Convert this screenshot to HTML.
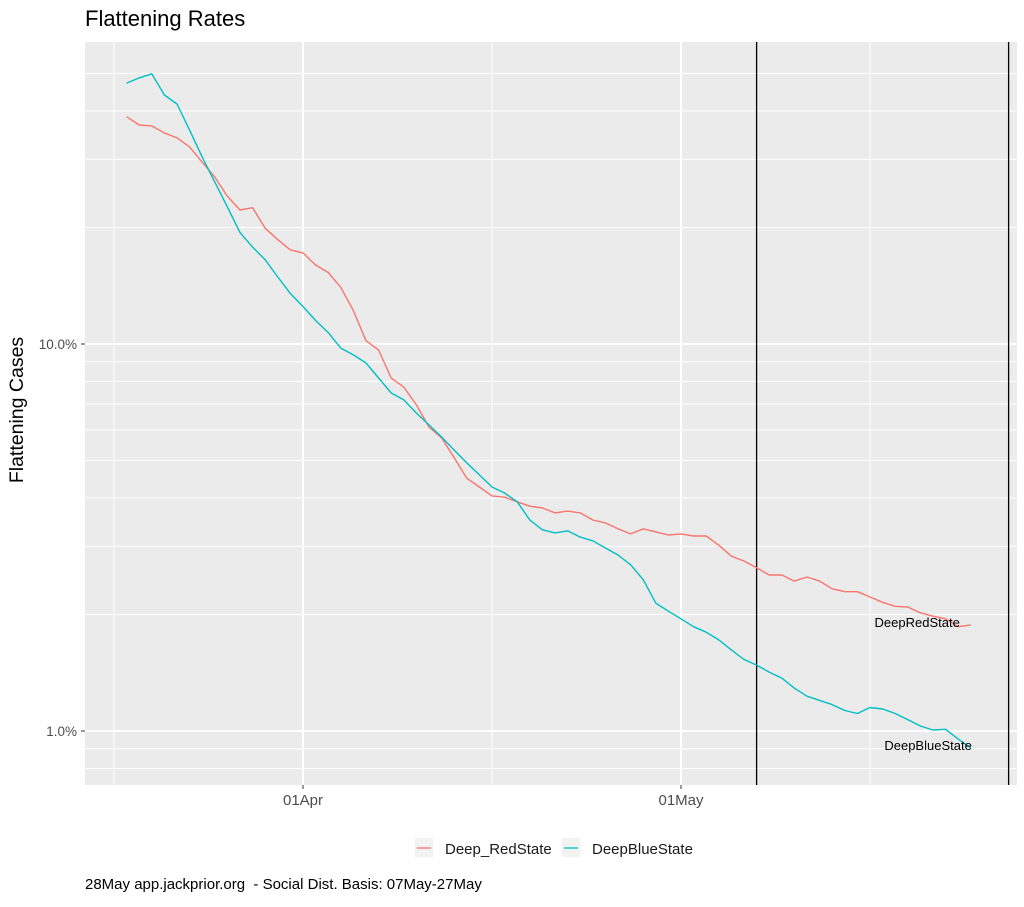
<!DOCTYPE html>
<html><head><meta charset="utf-8">
<style>
html,body{margin:0;padding:0;background:#fff;}
body{width:1024px;height:902px;overflow:hidden;font-family:"Liberation Sans",Arial,sans-serif;}
svg text{font-family:"Liberation Sans",Arial,sans-serif;}
</style></head>
<body>
<svg id="chart" width="1024" height="902" viewBox="0 0 1024 902" xmlns="http://www.w3.org/2000/svg">
<text x="85" y="26" font-size="22" fill="#000">Flattening Rates</text>
<rect x="85" y="42" width="932" height="743" fill="#ebebeb"/>
<g id="grid"></g>
<g id="vlines"></g>
<g id="series"></g>
<g id="axes"></g>
<text transform="translate(23,410) rotate(-90)" text-anchor="middle" font-size="19.5" fill="#000">Flattening Cases</text>
<g>
<g>
<rect x="415" y="838" width="18" height="19" fill="#f2f2f2"/>
<line x1="417" y1="848" x2="431" y2="848" stroke="#F8766D" stroke-width="1.3"/>
<text x="445" y="854" font-size="15" fill="#1a1a1a">Deep_RedState</text>
</g>
<g>
<rect x="562" y="838" width="18" height="19" fill="#f2f2f2"/>
<line x1="564" y1="848" x2="578" y2="848" stroke="#00BFC4" stroke-width="1.3"/>
<text x="592" y="854" font-size="15" fill="#1a1a1a">DeepBlueState</text>
</g>
</g>
<text x="85" y="889" font-size="15" fill="#000" xml:space="preserve" style="white-space:pre">28May app.jackprior.org  - Social Dist. Basis: 07May-27May</text>
</svg>
<script>
const startDay = -14; // days relative to 01Apr (18 Mar)
const redValues = [38.67,36.8,36.6,35.1,34.1,32.3,29.5,27.0,24.1,22.2,22.5,19.9,18.6,17.5,17.2,16.0,15.3,14.0,12.2,10.2,9.65,8.17,7.74,6.96,6.10,5.72,5.08,4.50,4.27,4.05,4.02,3.91,3.81,3.77,3.66,3.70,3.66,3.51,3.45,3.33,3.23,3.33,3.27,3.21,3.23,3.19,3.19,3.02,2.83,2.75,2.64,2.53,2.53,2.44,2.50,2.44,2.33,2.29,2.29,2.22,2.15,2.10,2.09,2.02,1.98,1.95,1.86,1.88];
const blueValues = [47.2,48.7,49.9,44.0,41.7,35.7,30.4,26.2,22.6,19.4,17.8,16.5,14.9,13.5,12.5,11.5,10.7,9.76,9.37,8.93,8.17,7.47,7.17,6.63,6.18,5.75,5.32,4.93,4.59,4.27,4.12,3.91,3.51,3.31,3.25,3.29,3.17,3.10,2.97,2.85,2.69,2.46,2.14,2.04,1.95,1.86,1.80,1.72,1.62,1.53,1.48,1.42,1.37,1.29,1.23,1.20,1.17,1.13,1.11,1.15,1.14,1.11,1.07,1.03,1.006,1.01,0.953,0.904];
const yMajorTicks = [10, 1];
const yTickLabels = ["10.0%", "1.0%"];
const yMinorGrid = [50,40,30,20,9,8,7,6,5,4,3,2,0.9,0.8];
const xMajorDays = [0, 30];
const xTickLabels = ["01Apr", "01May"];
const xMinorDays = [-15, 15, 45];
const refLineDays = [36, 56];
const seriesLabels = ["DeepRedState", "DeepBlueState"];

const NS = "http://www.w3.org/2000/svg";
const PX0 = 85, PX1 = 1017, PY0 = 42, PY1 = 785;
function xScale(day){ return 303 + day * 12.6; }
function yScale(v){ return 731 - 387 * Math.log10(v); }
function mk(tag, attrs, parent){ const e = document.createElementNS(NS, tag); for (const k in attrs) e.setAttribute(k, attrs[k]); parent.appendChild(e); return e; }

const grid = document.getElementById('grid');
yMinorGrid.forEach(v => {
  const l = mk('line', {x1:PX0, x2:PX1, y1:yScale(v), y2:yScale(v), stroke:'#fff', 'stroke-width':1}, grid);
  
  
});
xMinorDays.forEach(d => {
  const l = mk('line', {x1:xScale(d), x2:xScale(d), y1:PY0, y2:PY1, stroke:'#fff', 'stroke-width':1}, grid);
  
  
});
yMajorTicks.forEach(v => {
  const l = mk('line', {x1:PX0, x2:PX1, y1:yScale(v), y2:yScale(v), stroke:'#fff', 'stroke-width':2}, grid);
  
  
});
xMajorDays.forEach(d => {
  const l = mk('line', {x1:xScale(d), x2:xScale(d), y1:PY0, y2:PY1, stroke:'#fff', 'stroke-width':2}, grid);
  
  
});

const vl = document.getElementById('vlines');
refLineDays.forEach(d => {
  const l = mk('line', {x1:xScale(d), x2:xScale(d), y1:PY0, y2:PY1, stroke:'#000', 'stroke-width':1.3}, vl);
  
  
});

const ser = document.getElementById('series');
function drawLine(vals, color, name){
  const pts = vals.map((v,i) => xScale(startDay + i).toFixed(1) + ',' + yScale(v).toFixed(1)).join(' ');
  const p = mk('polyline', {points:pts, fill:'none', stroke:color, 'stroke-width':1.4, 'stroke-linejoin':'round'}, ser);
  
  
}
drawLine(redValues, '#F8766D', 'deep-red-state-line');
drawLine(blueValues, '#00BFC4', 'deep-blue-state-line');

const lastIdx = redValues.length - 1;
const t1 = mk('text', {x: xScale(startDay + lastIdx) - 11, y: yScale(redValues[lastIdx]) + 2, 'text-anchor':'end', 'font-size':13, fill:'#000'}, ser);
t1.textContent = seriesLabels[0];


const lastB = blueValues.length - 1;
const t2 = mk('text', {x: xScale(startDay + lastB) + 1, y: yScale(blueValues[lastB]) + 2, 'text-anchor':'end', 'font-size':13, fill:'#000'}, ser);
t2.textContent = seriesLabels[1];



const ax = document.getElementById('axes');
yMajorTicks.forEach((v,i) => {
  const tk = mk('line', {x1:81, x2:85, y1:yScale(v), y2:yScale(v), stroke:'#333', 'stroke-width':1}, ax);
  
  
  const t = mk('text', {x:77, y:yScale(v)+5, 'text-anchor':'end', 'font-size':13.5, fill:'#4d4d4d'}, ax);
  t.textContent = yTickLabels[i];
  
  
});
xMajorDays.forEach((d,i) => {
  const tk = mk('line', {x1:xScale(d), x2:xScale(d), y1:785, y2:789, stroke:'#333', 'stroke-width':1}, ax);
  
  
  const t = mk('text', {x:xScale(d), y:805, 'text-anchor':'middle', 'font-size':15, fill:'#4d4d4d'}, ax);
  t.textContent = xTickLabels[i];
  
  
});
</script>
</body></html>
